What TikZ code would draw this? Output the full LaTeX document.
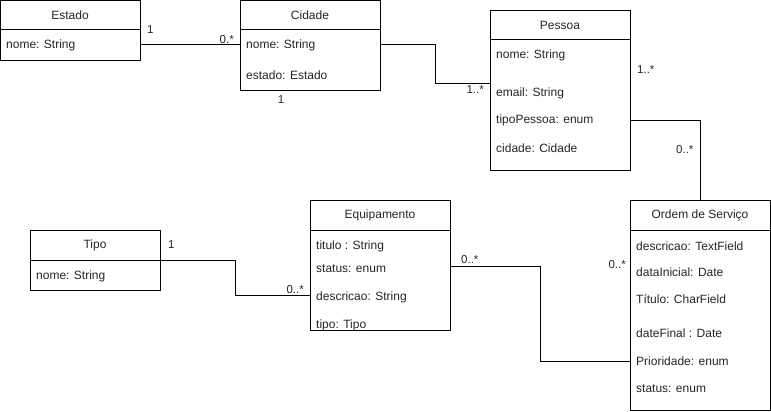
\documentclass[tikz,border=0pt]{standalone}
\usepackage{fontspec}
\setmainfont{Liberation Sans}
\begin{document}
\begin{tikzpicture}[x=1pt,y=-1pt,
  cls/.style={draw=black, line width=1pt, fill=white, anchor=north west, inner sep=0pt},
  ttl/.style={font=\fontsize{12}{14}\selectfont, text=black!85, inner sep=0pt},
  attr/.style={font=\fontsize{12}{14}\selectfont, text=black!85, anchor=west, inner sep=0pt},
  mult/.style={font=\fontsize{11.5}{13}\selectfont, text=black!85, inner sep=0pt},
  conn/.style={draw=black, line width=1pt}]
\useasboundingbox (0,0) rectangle (771,412);

% Estado
\node[cls, minimum width=140pt, minimum height=60pt] (estado) at (0,0) {};
\draw[line width=1pt] (0,30) -- (140,30);
\node[ttl] (estadoT) at (70,15) {Estado};
\node[attr] (estadoA) at (6,45) {nome: String};

% Cidade
\node[cls, minimum width=140pt, minimum height=90pt] (cidade) at (240,0) {};
\draw[line width=1pt] (240,30) -- (380,30);
\node[ttl] (cidadeT) at (310,15) {Cidade};
\node[attr] (cidadeA) at (246,45) {nome: String};
\node[attr] (cidadeB) at (246,75) {estado: Estado};

% Pessoa
\node[cls, minimum width=140pt, minimum height=160pt] (pessoa) at (490,10) {};
\draw[line width=1pt] (490,40) -- (630,40);
\node[ttl] (pessoaT) at (560,25) {Pessoa};
\node[attr] (pessoaA) at (496,55) {nome: String};
\node[attr] (pessoaB) at (496,93) {email: String};
\node[attr] (pessoaC) at (496,120) {tipoPessoa: enum};
\node[attr] (pessoaD) at (496,148) {cidade: Cidade};

% Tipo
\node[cls, minimum width=130pt, minimum height=60pt] (tipo) at (30,230) {};
\draw[line width=1pt] (30,260) -- (160,260);
\node[ttl] (tipoT) at (95,245) {Tipo};
\node[attr] (tipoA) at (36,276) {nome: String};

% Equipamento
\node[cls, minimum width=140pt, minimum height=130pt] (equip) at (310,200) {};
\draw[line width=1pt] (310,230) -- (450,230);
\node[ttl] (equipT) at (380,215) {Equipamento};
\node[attr] (equipA) at (316,246) {titulo : String};
\node[attr] (equipB) at (316,269) {status: enum};
\node[attr] (equipC) at (316,297) {descricao: String};
\node[attr] (equipD) at (316,325) {tipo: Tipo};

% Ordem de Servico
\node[cls, minimum width=140pt, minimum height=210pt] (ordem) at (630,200) {};
\draw[line width=1pt] (630,230) -- (770,230);
\node[ttl] (ordemT) at (700,215) {Ordem de Serviço};
\node[attr] (ordemA) at (636,246) {descricao: TextField};
\node[attr] (ordemB) at (636,272) {dataInicial: Date};
\node[attr] (ordemC) at (636,299) {Título: CharField};
\node[attr] (ordemD) at (636,333) {dateFinal : Date};
\node[attr] (ordemE) at (636,361) {Prioridade: enum};
\node[attr] (ordemF) at (636,389) {status: enum};

% connectors
\draw[conn] (estado.east |- estadoA) -- (cidade.west |- estadoA);
\coordinate (c1a) at (435,45);
\coordinate (c1b) at (435,83);
\draw[conn] (cidade.east |- c1a) -- (c1a) -- (c1b) -- (pessoa.west |- c1b);
\coordinate (c2a) at (700,120);
\draw[conn] (pessoa.east |- c2a) -- (c2a) -- (ordem.north -| c2a);
\coordinate (c3a) at (235,260);
\coordinate (c3b) at (235,295);
\draw[conn] (tipo.east |- c3a) -- (c3a) -- (c3b) -- (equip.west |- c3b);
\coordinate (c4a) at (540,266);
\coordinate (c4b) at (540,361);
\draw[conn] (equip.east |- c4a) -- (c4a) -- (c4b) -- (ordem.west |- c4b);

% multiplicities
\node[mult, anchor=west] (m1) at (147,30) {1};
\node[mult, anchor=east] (m2) at (234,40) {0.*};
\node[mult] (m3) at (281,100) {1};
\node[mult, anchor=east] (m4) at (484,90) {1..*};
\node[mult, anchor=west] (m5) at (637,70) {1..*};
\node[mult, anchor=west] (m6) at (676,150) {0..*};
\node[mult, anchor=west] (m7) at (168,245) {1};
\node[mult, anchor=east] (m8) at (304,290) {0..*};
\node[mult, anchor=west] (m9) at (461,260) {0..*};
\node[mult, anchor=east] (m10) at (626,265) {0..*};
\end{tikzpicture}
\end{document}
